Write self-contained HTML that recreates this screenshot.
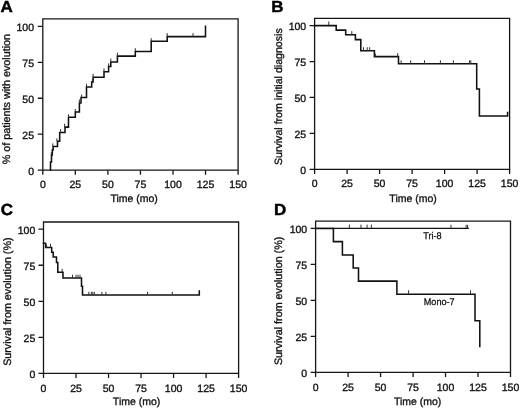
<!DOCTYPE html>
<html><head><meta charset="utf-8"><style>
html,body{margin:0;padding:0;background:#fff;width:520px;height:409px;overflow:hidden}
svg{display:block;will-change:transform}
text{text-rendering:geometricPrecision}
.t{font-family:"Liberation Sans", sans-serif;font-size:10.5px;fill:#111;stroke:#111;stroke-width:0.33px}
.s{font-family:"Liberation Sans", sans-serif;font-size:9.7px;fill:#111;stroke:#111;stroke-width:0.28px}
.L{font-family:"Liberation Sans", sans-serif;font-size:16px;font-weight:bold;fill:#000;stroke:#000;stroke-width:0.45px}
</style></head><body>
<svg width="520" height="409" viewBox="0 0 520 409">
<rect width="520" height="409" fill="#fff"/>
<path d="M42.8,18.9 H238.1 V170.2 H42.8 Z" fill="none" stroke="#161616" stroke-width="1.3"/>
<path d="M37.8,170.2 H42.8 M37.8,134.22 H42.8 M37.8,98.25 H42.8 M37.8,62.28 H42.8 M37.8,26.3 H42.8 M42.8,170.2 V174.8 M75.35,170.2 V174.8 M107.9,170.2 V174.8 M140.45,170.2 V174.8 M173,170.2 V174.8 M205.55,170.2 V174.8 M238.1,170.2 V174.8" fill="none" stroke="#161616" stroke-width="1.3"/>
<text x="34" y="174.5" text-anchor="end" class="t">0</text>
<text x="34" y="138.53" text-anchor="end" class="t">25</text>
<text x="34" y="102.55" text-anchor="end" class="t">50</text>
<text x="34" y="66.58" text-anchor="end" class="t">75</text>
<text x="34" y="30.6" text-anchor="end" class="t">100</text>
<text x="42.8" y="188" text-anchor="middle" class="t">0</text>
<text x="75.35" y="188" text-anchor="middle" class="t">25</text>
<text x="107.9" y="188" text-anchor="middle" class="t">50</text>
<text x="140.45" y="188" text-anchor="middle" class="t">75</text>
<text x="173" y="188" text-anchor="middle" class="t">100</text>
<text x="205.55" y="188" text-anchor="middle" class="t">125</text>
<text x="238.1" y="188" text-anchor="middle" class="t">150</text>
<text x="134.15" y="201.8" text-anchor="middle" class="t">Time (mo)</text>
<text transform="translate(10,99.1) rotate(-90)" x="0" y="0" text-anchor="middle" class="t" style="font-size:10.75px">&#37; of patients with evolution</text>
<text transform="translate(0.6,12) scale(1.06,1)" x="0" y="0" class="L">A</text>
<path d="M50.5,170 V162 H51.5 V155 H52.3 V150 H53.1 V146.4 H57.5 V141.3 H59.7 V132.5 H65 V127.1 H68.5 V117.3 H75.3 V112 H79.4 V103 H81 V97.5 H86.5 V87 H91.7 V82 H93.1 V77.3 H104 V71.8 H108.6 V66.4 H110.8 V62 H117.4 V56.1 H135.3 V51.4 H151.2 V41.2 H167.2 V36.6 H205.5 V26.3" fill="none" stroke="#111" stroke-width="1.55" stroke-linejoin="miter" stroke-linecap="square"/>
<path d="M51.3,155 V152 M52.8,146.4 V143.4 M56.9,141.3 V138.3 M60.6,132.5 V129 M64.6,127.1 V123.7 M68.5,117.3 V114.3 M75.3,112 V109 M79.4,103 V99.5 M81.6,97.5 V94.5 M86.5,87 V83.7 M92.4,82 V79 M93.1,77.3 V73.8 M104,71.8 V68.4 M108.6,66.4 V63.4 M110.8,62 V58.6 M117.4,56.1 V52.7 M135.3,51.4 V48.2 M151.2,41.2 V38.2 M167.2,36.6 V33.1 M193,36.6 V33" fill="none" stroke="#333" stroke-width="1"/>
<path d="M314.6,18.3 H509.6 V169.3 H314.6 Z" fill="none" stroke="#161616" stroke-width="1.3"/>
<path d="M309.6,169.3 H314.6 M309.6,133.38 H314.6 M309.6,97.45 H314.6 M309.6,61.53 H314.6 M309.6,25.6 H314.6 M314.6,169.3 V173.9 M347.1,169.3 V173.9 M379.6,169.3 V173.9 M412.1,169.3 V173.9 M444.6,169.3 V173.9 M477.1,169.3 V173.9 M509.6,169.3 V173.9" fill="none" stroke="#161616" stroke-width="1.3"/>
<text x="306.2" y="173.6" text-anchor="end" class="t">0</text>
<text x="306.2" y="137.68" text-anchor="end" class="t">25</text>
<text x="306.2" y="101.75" text-anchor="end" class="t">50</text>
<text x="306.2" y="65.83" text-anchor="end" class="t">75</text>
<text x="306.2" y="29.9" text-anchor="end" class="t">100</text>
<text x="314.6" y="187.3" text-anchor="middle" class="t">0</text>
<text x="347.1" y="187.3" text-anchor="middle" class="t">25</text>
<text x="379.6" y="187.3" text-anchor="middle" class="t">50</text>
<text x="412.1" y="187.3" text-anchor="middle" class="t">75</text>
<text x="444.6" y="187.3" text-anchor="middle" class="t">100</text>
<text x="477.1" y="187.3" text-anchor="middle" class="t">125</text>
<text x="509.6" y="187.3" text-anchor="middle" class="t">150</text>
<text x="413.1" y="201.6" text-anchor="middle" class="t">Time (mo)</text>
<text transform="translate(281.5,96.65) rotate(-90)" x="0" y="0" text-anchor="middle" class="t" style="font-size:10.62px">Survival from initial diagnosis</text>
<text transform="translate(271.3,11.5) scale(1.06,1)" x="0" y="0" class="L">B</text>
<path d="M314.6,25.6 H336.2 V30.1 H345.7 V34.7 H355.4 V39.6 H360.8 V50.7 H374.4 V56.6 H398.5 V63.8 H476.7 V88.9 H479.4 V115.9 H507.6 V112.6" fill="none" stroke="#111" stroke-width="1.55" stroke-linejoin="miter" stroke-linecap="square"/>
<path d="M328.8,25.5 V21.5 M351.8,34.7 V31.2 M363.5,50.7 V47.2 M367.2,50.7 V47.2 M369.7,50.7 V47.2 M375.4,56.6 V53.6 M397.7,56.6 V53.1 M401.1,63.8 V60.3 M410.7,63.8 V60.3 M424.5,63.8 V60.3 M440.4,63.8 V60.3 M453.4,63.8 V60.3 M469.5,63.8 V60.3 M470.8,63.8 V60.3" fill="none" stroke="#333" stroke-width="1"/>
<path d="M43.5,222 H238.6 V373.4 H43.5 Z" fill="none" stroke="#161616" stroke-width="1.3"/>
<path d="M38.5,373.4 H43.5 M38.5,337.35 H43.5 M38.5,301.3 H43.5 M38.5,265.25 H43.5 M38.5,229.2 H43.5 M43.5,373.4 V378 M76.02,373.4 V378 M108.53,373.4 V378 M141.05,373.4 V378 M173.57,373.4 V378 M206.08,373.4 V378 M238.6,373.4 V378" fill="none" stroke="#161616" stroke-width="1.3"/>
<text x="35.3" y="377.7" text-anchor="end" class="t">0</text>
<text x="35.3" y="341.65" text-anchor="end" class="t">25</text>
<text x="35.3" y="305.6" text-anchor="end" class="t">50</text>
<text x="35.3" y="269.55" text-anchor="end" class="t">75</text>
<text x="35.3" y="233.5" text-anchor="end" class="t">100</text>
<text x="43.5" y="391.6" text-anchor="middle" class="t">0</text>
<text x="76.02" y="391.6" text-anchor="middle" class="t">25</text>
<text x="108.53" y="391.6" text-anchor="middle" class="t">50</text>
<text x="141.05" y="391.6" text-anchor="middle" class="t">75</text>
<text x="173.57" y="391.6" text-anchor="middle" class="t">100</text>
<text x="206.08" y="391.6" text-anchor="middle" class="t">125</text>
<text x="238.6" y="391.6" text-anchor="middle" class="t">150</text>
<text x="136.6" y="405.4" text-anchor="middle" class="t">Time (mo)</text>
<text transform="translate(11.3,301.65) rotate(-90)" x="0" y="0" text-anchor="middle" class="t" style="font-size:10.75px">Survival from evolution (&#37;)</text>
<text transform="translate(0.8,215.4) scale(1.06,1)" x="0" y="0" class="L">C</text>
<path d="M43.5,243.2 H45.6 V247.4 H51.7 V252.3 H53.2 V257 H56.5 V262.5 H57.8 V272.3 H63 V277.9 H81.5 V286.3 H82.5 V295 H199.3 V291" fill="none" stroke="#111" stroke-width="1.55" stroke-linejoin="miter" stroke-linecap="square"/>
<path d="M46.6,247.4 V244.4 M50.5,247.4 V243.9 M62.1,272.3 V268.9 M72.5,277.9 V274.7 M76,277.9 V274.7 M78,277.9 V274.7 M80,277.9 V274.7 M88.8,295 V291.8 M91.3,295 V291.8 M92.8,295 V291.8 M94.4,295 V291.8 M101.9,295 V291.8 M105.9,295 V291.8 M147.6,295 V291.8 M172.3,295 V291.8" fill="none" stroke="#333" stroke-width="1"/>
<path d="M315.6,221.2 H510.5 V372.3 H315.6 Z" fill="none" stroke="#161616" stroke-width="1.3"/>
<path d="M310.6,372.3 H315.6 M310.6,336.32 H315.6 M310.6,300.35 H315.6 M310.6,264.38 H315.6 M310.6,228.4 H315.6 M315.6,372.3 V376.9 M348.08,372.3 V376.9 M380.57,372.3 V376.9 M413.05,372.3 V376.9 M445.53,372.3 V376.9 M478.02,372.3 V376.9 M510.5,372.3 V376.9" fill="none" stroke="#161616" stroke-width="1.3"/>
<text x="307.2" y="376.6" text-anchor="end" class="t">0</text>
<text x="307.2" y="340.62" text-anchor="end" class="t">25</text>
<text x="307.2" y="304.65" text-anchor="end" class="t">50</text>
<text x="307.2" y="268.68" text-anchor="end" class="t">75</text>
<text x="307.2" y="232.7" text-anchor="end" class="t">100</text>
<text x="315.6" y="391" text-anchor="middle" class="t">0</text>
<text x="348.08" y="391" text-anchor="middle" class="t">25</text>
<text x="380.57" y="391" text-anchor="middle" class="t">50</text>
<text x="413.05" y="391" text-anchor="middle" class="t">75</text>
<text x="445.53" y="391" text-anchor="middle" class="t">100</text>
<text x="478.02" y="391" text-anchor="middle" class="t">125</text>
<text x="510.5" y="391" text-anchor="middle" class="t">150</text>
<text x="417.65" y="404.6" text-anchor="middle" class="t">Time (mo)</text>
<text transform="translate(282,300.9) rotate(-90)" x="0" y="0" text-anchor="middle" class="t" style="font-size:10.75px">Survival from evolution (&#37;)</text>
<text transform="translate(274.1,214.8) scale(1.06,1)" x="0" y="0" class="L">D</text>
<path d="M315.6,228.4 H468.3" fill="none" stroke="#111" stroke-width="1.15" stroke-linejoin="miter" stroke-linecap="square"/>
<path d="M315.6,228.4 H333.4 V241.6 H342.4 V254.9 H353.2 V268 H358.5 V281.1 H396.9 V294.2 H475 V320.7 H479.8 V346.5" fill="none" stroke="#111" stroke-width="1.55" stroke-linejoin="miter" stroke-linecap="square"/>
<path d="M349.4,228.4 V224.6 M361,228.4 V224.6 M367.1,228.4 V224.6 M371.4,228.4 V224.6 M451,228.4 V224.8 M466.1,228.4 V224.8 M467.6,228.4 V224.8 M408.6,294.2 V290.2 M470.5,294.2 V290.2" fill="none" stroke="#333" stroke-width="1"/>
<text x="423.2" y="239.4" class="s" textLength="18.4" lengthAdjust="spacingAndGlyphs">Tri-8</text>
<text x="423.8" y="304.8" class="s" textLength="30.8" lengthAdjust="spacingAndGlyphs">Mono-7</text>
</svg>
</body></html>
